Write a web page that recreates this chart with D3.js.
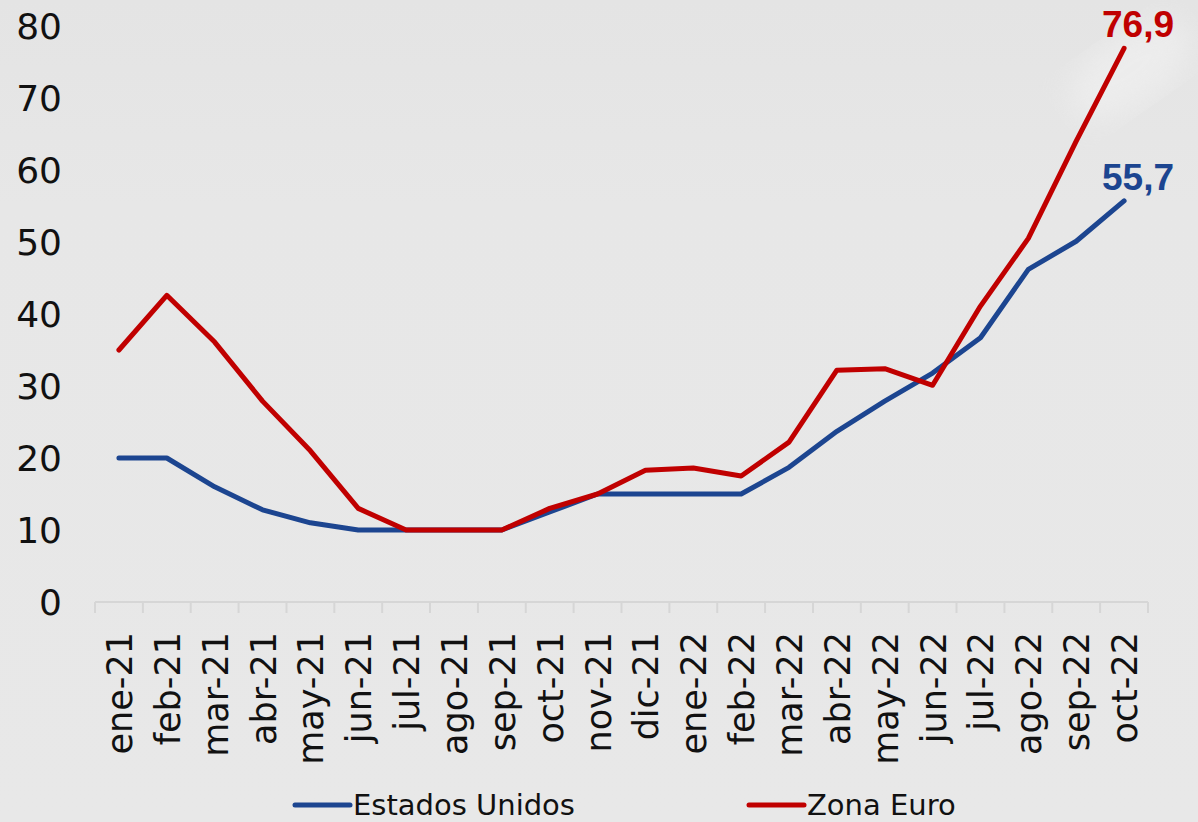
<!doctype html>
<html lang="es">
<head>
<meta charset="utf-8">
<script src="https://cdn.jsdelivr.net/npm/d3@7"></script>
<style>
html, body { margin: 0; padding: 0; background: #e8e8e8; }
svg { display: block; }
.tick text { font-family: "DejaVu Sans", sans-serif; fill: #111; }
</style>
</head>
<body>
<svg id="chart" width="1198" height="822"></svg>
<script>
// months shown on the x axis
var months = ["ene-21","feb-21","mar-21","abr-21","may-21","jun-21","jul-21","ago-21","sep-21","oct-21","nov-21","dic-21",
              "ene-22","feb-22","mar-22","abr-22","may-22","jun-22","jul-22","ago-22","sep-22","oct-22"];

// values
var estadosUnidos = [20, 20, 16, 12.8, 11, 10, 10, 10, 10, 12.5, 15, 15, 15, 15, 18.7, 23.7, 27.9, 31.8, 36.7, 46.2, 50.1, 55.7];
var zonaEuro      = [35, 42.6, 36.1, 27.9, 21, 13, 10, 10, 10, 13, 15, 18.3, 18.6, 17.5, 22.2, 32.2, 32.4, 30.1, 41.1, 50.5, 64, 76.9];

var yTicks = [0, 10, 20, 30, 40, 50, 60, 70, 80];

var series = [
    { name: "Estados Unidos", values: estadosUnidos, color: "#1c4590", label: "55,7" },
    { name: "Zona Euro",      values: zonaEuro,      color: "#c00000", label: "76,9" }
];

var svg = d3.select("#chart");
var W = 1198, H = 822;

// background with a soft light patch, like the faded photo behind
var defs = svg.append("defs");
var bg = defs.append("linearGradient").attr("id", "bg").attr("x1", 0).attr("y1", 0).attr("x2", 0).attr("y2", 1);
bg.append("stop").attr("offset", "0%").attr("stop-color", "#e4e4e4");
bg.append("stop").attr("offset", "25%").attr("stop-color", "#e7e7e7");
bg.append("stop").attr("offset", "100%").attr("stop-color", "#e8e8e8");
defs.append("filter").attr("id", "blur").append("feGaussianBlur").attr("stdDeviation", 14);

svg.append("rect").attr("width", W).attr("height", H).attr("fill", "url(#bg)");
svg.append("ellipse")
    .attr("cx", 1130).attr("cy", 70).attr("rx", 70).attr("ry", 35)
    .attr("transform", "rotate(-35 1130 70)")
    .attr("fill", "#f0f0f0").attr("opacity", 0.7).attr("filter", "url(#blur)");

var x = d3.scaleBand().domain(months).range([95, 1148]);
var y = d3.scaleLinear().domain([0, 80]).range([602, 26]);

// x axis: baseline with tick marks between categories
var xAxis = svg.append("g");
xAxis.append("line")
    .attr("x1", x.range()[0]).attr("x2", x.range()[1])
    .attr("y1", y(0)).attr("y2", y(0))
    .attr("stroke", "#d6d6d6").attr("stroke-width", 2);
xAxis.selectAll("line.tk")
    .data(months.concat(["end"]))
    .join("line")
    .attr("class", "tk")
    .attr("x1", function(d, i) { return x.range()[0] + i * x.step(); })
    .attr("x2", function(d, i) { return x.range()[0] + i * x.step(); })
    .attr("y1", y(0)).attr("y2", y(0) + 11)
    .attr("stroke", "#d6d6d6").attr("stroke-width", 2);
xAxis.selectAll("text")
    .data(months)
    .join("text")
    .attr("transform", function(d) {
        return "translate(" + (x(d) + x.bandwidth() / 2 + 1) + "," + (y(0) + 30) + ") rotate(-90)";
    })
    .attr("text-anchor", "end")
    .attr("dominant-baseline", "central")
    .attr("font-family", "DejaVu Sans, sans-serif")
    .attr("font-size", 35)
    .attr("fill", "#111")
    .text(function(d) { return d; });

// y axis: labels only
var yAxis = svg.append("g")
    .attr("transform", "translate(62,0)")
    .call(d3.axisLeft(y).tickValues(yTicks).tickSize(0).tickPadding(0));
yAxis.select(".domain").remove();
yAxis.selectAll("text").attr("font-size", 36).attr("dy", "0.36em");

// lines
var line = d3.line()
    .x(function(d, i) { return x(months[i]) + x.bandwidth() / 2; })
    .y(function(d) { return y(d); });

svg.selectAll("path.serie")
    .data(series)
    .join("path")
    .attr("class", "serie")
    .attr("fill", "none")
    .attr("stroke", function(d) { return d.color; })
    .attr("stroke-width", 5)
    .attr("stroke-linejoin", "round")
    .attr("stroke-linecap", "round")
    .attr("d", function(d) { return line(d.values); });

// end labels
svg.selectAll("text.endlbl")
    .data(series)
    .join("text")
    .attr("class", "endlbl")
    .attr("x", 1138)
    .attr("y", function(d) { return y(d.values[d.values.length - 1]) - 11; })
    .attr("text-anchor", "middle")
    .attr("font-family", "Liberation Sans, Arial, sans-serif")
    .attr("font-weight", "bold")
    .attr("font-size", 37)
    .attr("fill", function(d) { return d.color; })
    .text(function(d) { return d.label; });

// legend
var legendX = [295, 749];
var legend = svg.selectAll("g.leg")
    .data(series)
    .join("g")
    .attr("class", "leg")
    .attr("transform", function(d, i) { return "translate(" + legendX[i] + ",805)"; });
legend.append("line")
    .attr("x1", 0).attr("x2", 55)
    .attr("stroke", function(d) { return d.color; })
    .attr("stroke-width", 5).attr("stroke-linecap", "round");
legend.append("text")
    .attr("x", 58).attr("y", 10)
    .attr("font-family", "DejaVu Sans, sans-serif")
    .attr("font-size", 29)
    .attr("fill", "#111")
    .text(function(d) { return d.name; });
</script>
</body>
</html>
